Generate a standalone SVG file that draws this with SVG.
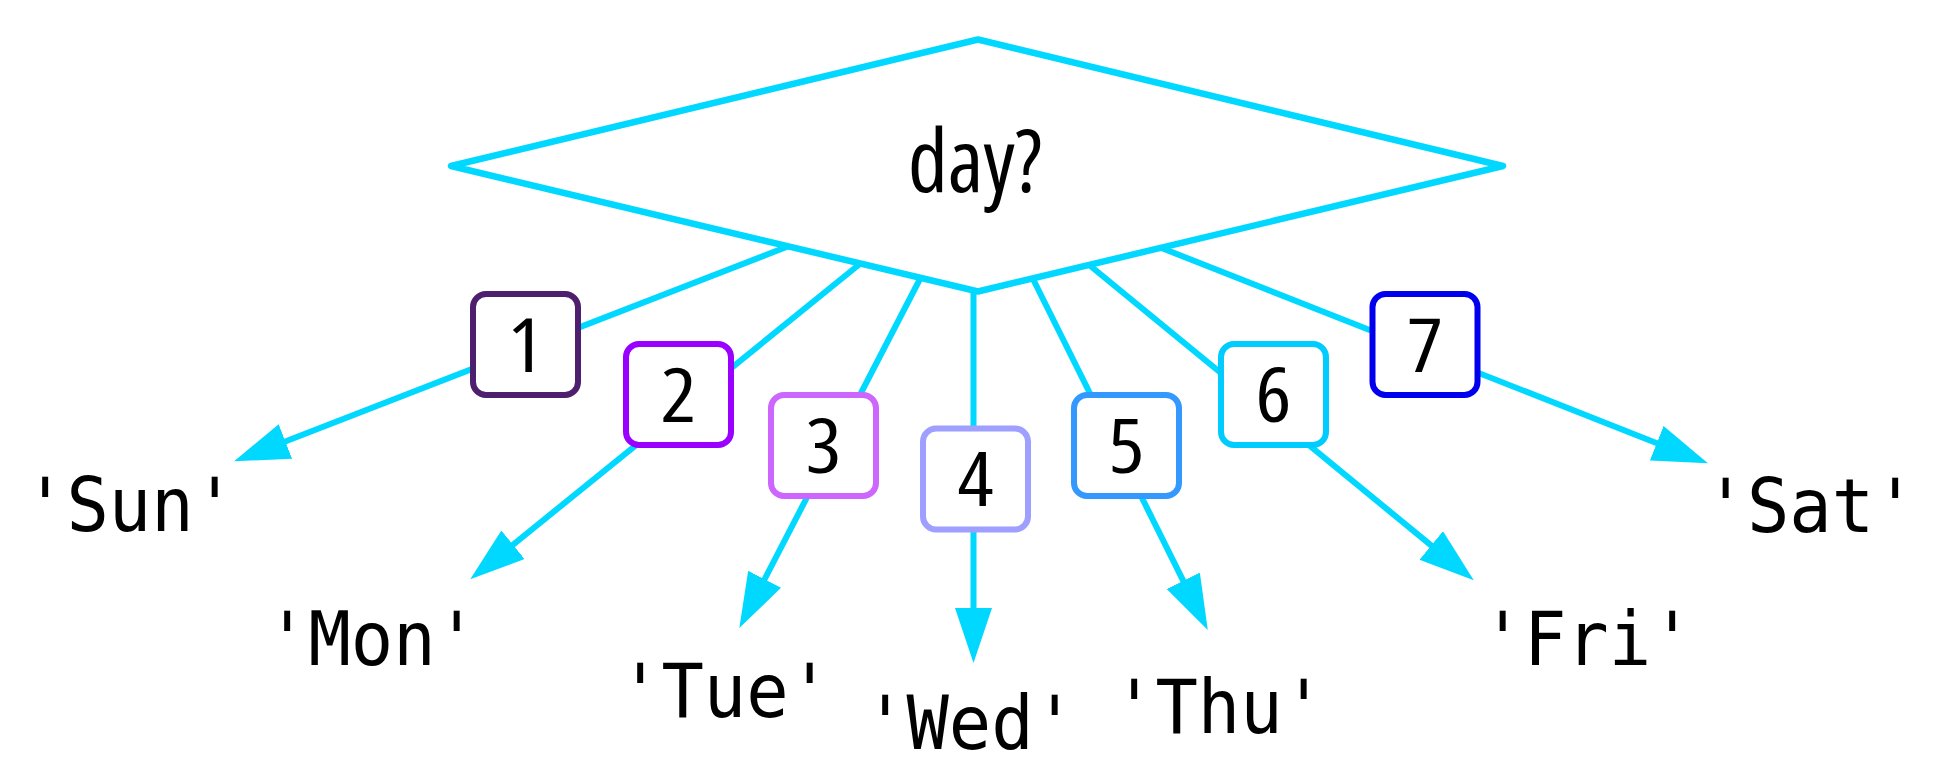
<svg xmlns="http://www.w3.org/2000/svg" width="1947" height="784" viewBox="0 0 1947 784">
<style>
.edge{fill:none;stroke:#00d8ff;stroke-width:6;marker-end:url(#arrow)}
.box{fill:#ffffff;stroke-width:6}
.num{font-family:"Open Sans","Liberation Sans",sans-serif;font-stretch:condensed;font-weight:400;font-size:75px;fill:#000;text-anchor:middle}
.lbl{font-family:"DejaVu Sans Mono","Liberation Mono",monospace;font-size:74px;fill:#000;text-anchor:middle}
</style>
<defs>
<marker id="arrow" markerUnits="userSpaceOnUse" markerWidth="56" markerHeight="38" refX="5" refY="18.5" orient="auto" viewBox="0 0 56 38">
<path d="M0,0 L55,18.5 L0,37 z" fill="#00d8ff"/>
</marker>
</defs>
<rect width="1947" height="784" fill="#ffffff"/>
<g id="connectors">
<line class="edge" x1="789" y1="246" x2="280.7" y2="443.2"/>
<line class="edge" x1="861" y1="263" x2="509.1" y2="547.9"/>
<line class="edge" x1="921" y1="277" x2="762.3" y2="583.7"/>
<line class="edge" x1="973.5" y1="289" x2="973.5" y2="613"/>
<line class="edge" x1="1032" y1="277" x2="1185.5" y2="585.3"/>
<line class="edge" x1="1088" y1="264" x2="1435.1" y2="548.6"/>
<line class="edge" x1="1159" y1="247" x2="1661.4" y2="445"/>
</g>
<g id="decision">
<polygon points="978,39.5 1503,166 978,291.5 451,166" fill="#ffffff" stroke="#00d8ff" stroke-width="6.5" stroke-linejoin="round"/>
<text x="975" y="192" font-family="'Open Sans','Liberation Sans',sans-serif" font-stretch="condensed" font-weight="400" font-size="88" text-anchor="middle" textLength="134" lengthAdjust="spacingAndGlyphs">day?</text>
</g>
<g id="label1"><rect class="box" x="473" y="294" width="105" height="101" rx="13" stroke="#4d1f6e"/><text class="num" x="525.5" y="371.5" textLength="36" lengthAdjust="spacingAndGlyphs">1</text></g>
<g id="label2"><rect class="box" x="626" y="344" width="105" height="101" rx="13" stroke="#9900ff"/><text class="num" x="678.5" y="421.5" textLength="36" lengthAdjust="spacingAndGlyphs">2</text></g>
<g id="label3"><rect class="box" x="771" y="395" width="105" height="101" rx="13" stroke="#cc66ff"/><text class="num" x="823.5" y="472.5" textLength="36" lengthAdjust="spacingAndGlyphs">3</text></g>
<g id="label4"><rect class="box" x="923" y="428.5" width="105" height="101" rx="13" stroke="#9f9fff"/><text class="num" x="975.5" y="506" textLength="36" lengthAdjust="spacingAndGlyphs">4</text></g>
<g id="label5"><rect class="box" x="1074" y="395" width="105" height="101" rx="13" stroke="#3399ff"/><text class="num" x="1126.5" y="472.5" textLength="36" lengthAdjust="spacingAndGlyphs">5</text></g>
<g id="label6"><rect class="box" x="1221" y="344" width="105" height="101" rx="13" stroke="#00ccff"/><text class="num" x="1273.5" y="421.5" textLength="36" lengthAdjust="spacingAndGlyphs">6</text></g>
<g id="label7"><rect class="box" x="1372.5" y="294" width="105" height="101" rx="13" stroke="#0000ee"/><text class="num" x="1425" y="371.5" textLength="36" lengthAdjust="spacingAndGlyphs">7</text></g>
<g id="sun"><text class="lbl" x="130" y="531" textLength="212" lengthAdjust="spacingAndGlyphs">'Sun'</text></g>
<g id="mon"><text class="lbl" x="372" y="665" textLength="212" lengthAdjust="spacingAndGlyphs">'Mon'</text></g>
<g id="tue"><text class="lbl" x="725" y="717" textLength="212" lengthAdjust="spacingAndGlyphs">'Tue'</text></g>
<g id="wed"><text class="lbl" x="970" y="749" textLength="212" lengthAdjust="spacingAndGlyphs">'Wed'</text></g>
<g id="thu"><text class="lbl" x="1219" y="733" textLength="212" lengthAdjust="spacingAndGlyphs">'Thu'</text></g>
<g id="fri"><text class="lbl" x="1587.5" y="665" textLength="212" lengthAdjust="spacingAndGlyphs">'Fri'</text></g>
<g id="sat"><text class="lbl" x="1810.5" y="532" textLength="212" lengthAdjust="spacingAndGlyphs">'Sat'</text></g>
</svg>
